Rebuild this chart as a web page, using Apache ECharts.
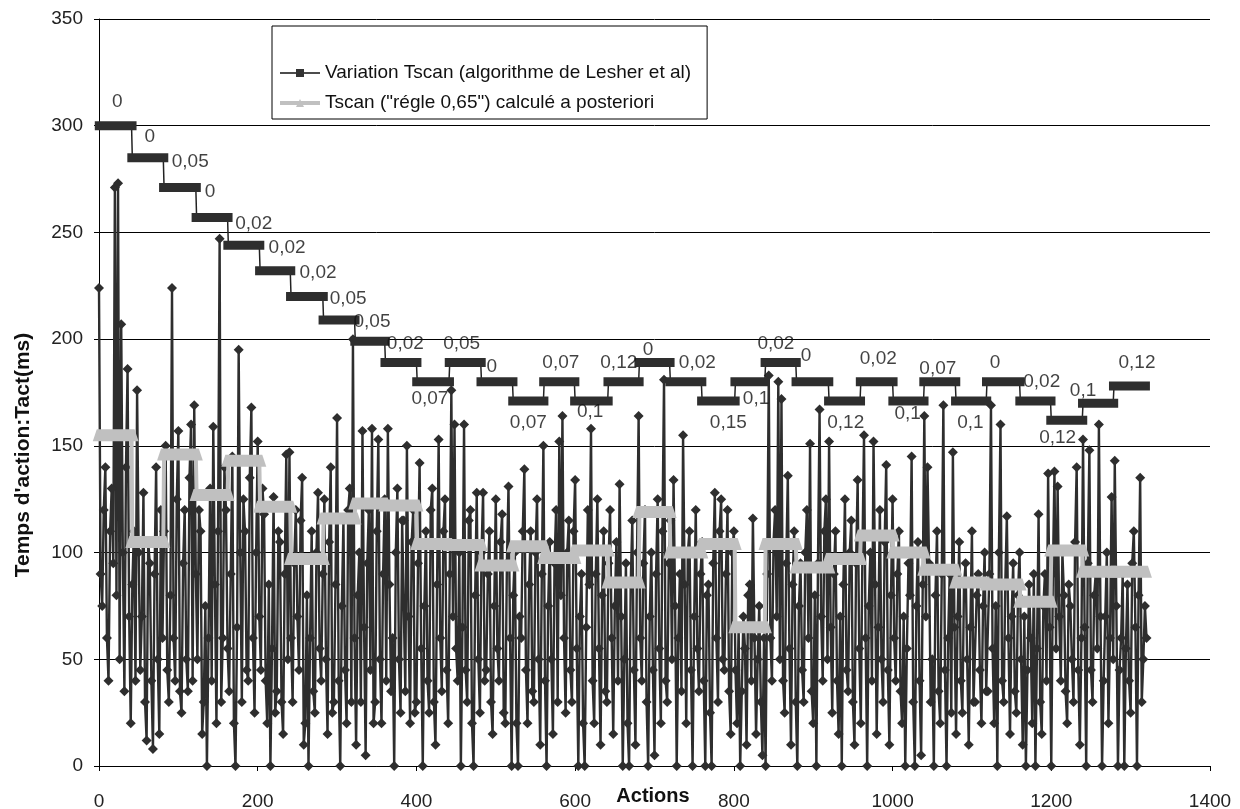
<!DOCTYPE html>
<html><head><meta charset="utf-8">
<script src="https://cdn.jsdelivr.net/npm/echarts@6/dist/echarts.min.js"></script>
<style>html,body{margin:0;padding:0;background:#fff}#c{width:1240px;height:809px}</style>
</head><body><div id="c"></div>
<script>
// ---- data ----
const xMin = 0, xMax = 1400, xInterval = 200;
const yMin = 0, yMax = 350, yInterval = 50;

// step levels (first and last action of each level)
const stepStart = [1, 42, 82, 123, 163, 203, 242, 283, 323, 361, 401, 442, 482, 522, 561, 600, 642, 681, 720, 760, 802, 840, 879, 920, 960, 1001, 1040, 1080, 1119, 1161, 1200, 1240, 1279];
const stepEnd   = [41, 81, 122, 162, 202, 241, 282, 322, 360, 400, 441, 481, 521, 560, 599, 641, 680, 719, 759, 801, 839, 878, 919, 959, 1000, 1039, 1079, 1118, 1160, 1199, 1239, 1278, 1318];
// Variation Tscan (Lesher et al) levels, ms
const tscanLesher = [300, 285, 271, 257, 244, 232, 220, 209, 199, 189, 180, 189, 180, 171, 180, 171, 180, 189, 180, 171, 180, 189, 180, 171, 180, 171, 180, 171, 180, 171, 162, 170, 178];
// Tscan "règle 0,65" levels, ms
const tscan065 = [155, 105, 146, 127, 143, 121.5, 97, 116, 123, 122, 104, 103.5, 94, 103, 97.5, 101, 86, 119, 100, 104, 65, 104, 93, 97, 108, 100, 92, 86, 85, 77, 101, 91, 91];
// data labels on the Lesher steps
const stepLabels = ["0","0","0,05","0","0,02","0,02","0,02","0,05","0,05","0,02","0,07","0,05","0","0,07","0,07","0,1","0,12","0","0,02","0,15","0,1","0,02","0","0,12","0,02","0,1","0,07","0,1","0","0,02","0,12","0,1","0,12"];
const labelX = [23, 64, 115, 140, 195, 237, 276, 314, 344, 386, 417, 457, 495, 541, 582, 619, 655, 692, 754, 793, 828, 853, 891, 941, 982, 1019, 1057, 1098, 1129, 1188, 1208, 1240, 1308];
const labelY = [311, 295, 283, 269, 254, 243, 231, 219, 208, 198, 172, 198, 187, 161, 189, 166, 189, 195, 189, 161, 172, 198, 192, 161, 191, 165, 186, 161, 189, 180, 154, 176, 189];

// Tact (ms), sampled every 2 actions from 0 to 1320
const tactStep = 2;
const tact = [
 224,90,75,120,140,60,40,110,130,95,271,80,273,50,207,100,35,140,186,70,
 20,85,110,40,176,100,45,70,128,30,12,105,95,40,8,90,140,50,15,120,
 60,110,150,45,30,80,224,60,40,125,157,35,25,95,120,50,35,135,160,40,
 169,90,50,120,110,15,30,75,0,60,130,40,159,85,20,110,247,30,60,140,
 120,55,35,90,145,20,0,65,195,100,30,125,110,45,40,135,168,60,25,100,
 152,70,45,130,118,40,20,85,0,55,126,25,35,110,105,30,15,90,146,50,
 147,60,30,95,120,70,45,115,135,10,20,80,0,60,110,35,25,100,128,55,
 40,90,125,50,15,105,140,25,30,85,163,40,0,75,115,45,20,120,130,30,
 200,60,10,80,100,30,157,65,5,95,120,45,158,20,30,110,153,50,20,90,
 125,40,158,85,35,60,0,100,130,50,25,115,115,35,150,70,20,105,120,25,
 30,95,142,55,0,75,110,40,25,120,130,30,10,85,153,60,35,110,125,45,
 20,90,176,70,160,55,40,100,0,65,160,45,30,115,120,20,0,80,128,50,
 25,100,128,40,45,90,110,30,15,75,125,55,40,105,118,25,20,95,131,60,
 0,80,100,20,0,70,60,110,139,45,20,85,110,35,30,100,125,50,10,90,
 150,40,0,75,105,50,15,95,120,30,152,80,164,60,25,100,115,45,30,110,
 134,55,0,70,90,20,0,65,120,85,158,40,20,90,125,55,10,80,110,35,
 30,95,120,60,15,75,105,40,132,70,0,50,95,20,0,85,115,45,10,100,
 164,60,40,95,120,30,0,70,100,45,5,90,125,55,20,110,181,40,30,95,
 115,50,134,75,0,60,90,35,155,85,20,100,110,45,0,70,120,55,35,90,
 105,40,0,80,85,25,0,95,128,60,30,110,125,50,45,90,120,35,15,100,
 110,45,20,65,0,35,70,55,10,80,85,40,116,60,15,50,75,30,5,60,
 0,90,183,60,40,105,120,70,180,50,172,40,25,95,136,55,10,85,110,30,
 0,75,95,45,30,100,120,60,151,35,20,80,0,95,167,70,40,110,125,50,
 152,65,25,90,110,40,15,70,0,85,125,45,35,100,115,30,10,95,134,55,
 20,100,155,60,0,75,100,40,152,85,15,65,120,50,30,105,141,45,10,80,
 125,60,40,90,110,35,20,70,0,55,95,80,145,30,0,75,105,40,5,85,
 164,70,140,95,30,50,0,80,110,35,20,90,169,45,0,60,90,25,147,65,
 15,70,105,40,25,85,95,50,10,65,110,30,30,80,90,45,20,75,100,35,
 35,90,169,55,20,75,0,100,160,40,30,85,117,60,15,70,95,35,25,80,
 100,50,10,70,0,45,85,60,20,90,0,55,118,30,15,75,90,40,137,65,
 0,90,138,55,131,70,40,100,80,35,20,85,75,50,30,105,140,45,10,60,
 153,65,0,95,148,45,30,80,90,55,160,70,0,40,70,100,20,60,126,50,
 143,75,0,45,60,90,0,55,85,40,25,95,110,65,0,80,135,30,50,75,60
];

const nameLesher = 'Variation Tscan (algorithme de Lesher et al)';
const name065 = 'Tscan ("régle 0,65") calculé a posteriori';

// ---- build ----
const FONT = '"Liberation Sans", Arial, sans-serif';
const tactData = tact.map((v, i) => [i * tactStep, v]);
const stepPts = (levels) => {
  const out = [];
  levels.forEach((v, i) => { out.push([stepStart[i], v]); out.push([stepEnd[i], v]); });
  return out;
};
const barRows = (levels) => levels.map((v, i) => [stepStart[i], stepEnd[i], v]);

const chart = echarts.init(document.getElementById('c'), null, {renderer: 'canvas'});
chart.setOption({
  animation: false,
  backgroundColor: '#fff',
  textStyle: {fontFamily: FONT},
  grid: {left: 99, right: 30, top: 19, bottom: 43, containLabel: false, outerBoundsMode: 'none'},
  legend: {
    left: 272, top: 26, orient: 'vertical',
    borderColor: '#000', borderWidth: 1, borderRadius: 0,
    padding: [37, 16, 6, 6],
    itemWidth: 40, itemHeight: 10, itemGap: 10,
    textStyle: {fontSize: 19, color: '#111', fontFamily: FONT, lineHeight: 20},
    data: [
      {name: nameLesher, itemStyle: {color: '#333'}, lineStyle: {color: '#111', width: 1.5}},
      {name: name065, itemStyle: {color: '#c0c0c0'}, lineStyle: {color: '#c0c0c0', width: 4}}
    ],
    selectedMode: false
  },
  xAxis: {
    type: 'value', min: xMin, max: xMax, interval: xInterval,
    axisLine: {show: true, lineStyle: {color: '#000', width: 1}},
    axisTick: {show: true, length: 5, lineStyle: {color: '#000'}},
    axisLabel: {fontSize: 19, color: '#222', margin: 26, fontFamily: FONT, formatter: (v) => String(v)},
    splitLine: {show: false}
  },
  yAxis: {
    type: 'value', min: yMin, max: yMax, interval: yInterval,
    axisLine: {show: true, lineStyle: {color: '#000', width: 1}},
    axisTick: {show: true, length: 5, lineStyle: {color: '#000'}},
    axisLabel: {fontSize: 19, color: '#222', margin: 16, fontFamily: FONT},
    splitLine: {show: true, lineStyle: {color: '#000', width: 1}}
  },
  graphic: [{
    type: 'text', x: 23, y: 455, rotation: Math.PI / 2, z: 100,
    style: {text: "Temps d'action:Tact(ms)", font: 'bold 21px ' + FONT, fill: '#111', textAlign: 'center', textVerticalAlign: 'middle'}
  }, {
    type: 'text', x: 653, y: 796, z: 100,
    style: {text: 'Actions', font: 'bold 20px ' + FONT, fill: '#111', textAlign: 'center', textVerticalAlign: 'middle'}
  }],
  series: [
    {
      name: 'Tact', type: 'line', data: tactData, z: 1,
      symbol: 'diamond', symbolSize: 10, showAllSymbol: true,
      lineStyle: {color: '#2e2e2e', width: 2.4}, itemStyle: {color: '#2e2e2e'}
    },
    {
      name: name065, type: 'line', data: stepPts(tscan065), z: 2,
      symbol: 'triangle', showSymbol: false,
      lineStyle: {color: '#c0c0c0', width: 4}, itemStyle: {color: '#c0c0c0'}
    },
    {
      name: 'bars065', type: 'custom', data: barRows(tscan065), z: 3,
      encode: {x: [0, 1], y: 2},
      renderItem: (params, api) => {
        const a = api.coord([api.value(0), api.value(2)]);
        const b = api.coord([api.value(1), api.value(2)]);
        return {type: 'polygon', shape: {points: [
          [a[0] - 7, a[1] + 6], [a[0] - 3, a[1] - 6], [b[0] + 3, b[1] - 6], [b[0] + 7, b[1] + 6]
        ]}, style: {fill: '#c0c0c0'}};
      }
    },
    {
      name: nameLesher, type: 'line', data: stepPts(tscanLesher), z: 4,
      symbol: 'rect', showSymbol: false,
      lineStyle: {color: '#222', width: 1.5}, itemStyle: {color: '#333'}
    },
    {
      name: 'barsLesher', type: 'custom', data: barRows(tscanLesher), z: 5,
      encode: {x: [0, 1], y: 2},
      renderItem: (params, api) => {
        const a = api.coord([api.value(0), api.value(2)]);
        const b = api.coord([api.value(1), api.value(2)]);
        return {type: 'rect', shape: {x: a[0] - 5, y: a[1] - 4.5, width: b[0] - a[0] + 10, height: 9}, style: {fill: '#2e2e2e'}};
      }
    },
    {
      name: 'labels', type: 'scatter', z: 6, symbolSize: 0,
      data: labelX.map((x, i) => [x, labelY[i]]),
      label: {show: true, position: 'inside', fontSize: 19, color: '#111', fontFamily: FONT,
        formatter: (p) => stepLabels[p.dataIndex]}
    }
  ]
});
</script>
</body></html>
